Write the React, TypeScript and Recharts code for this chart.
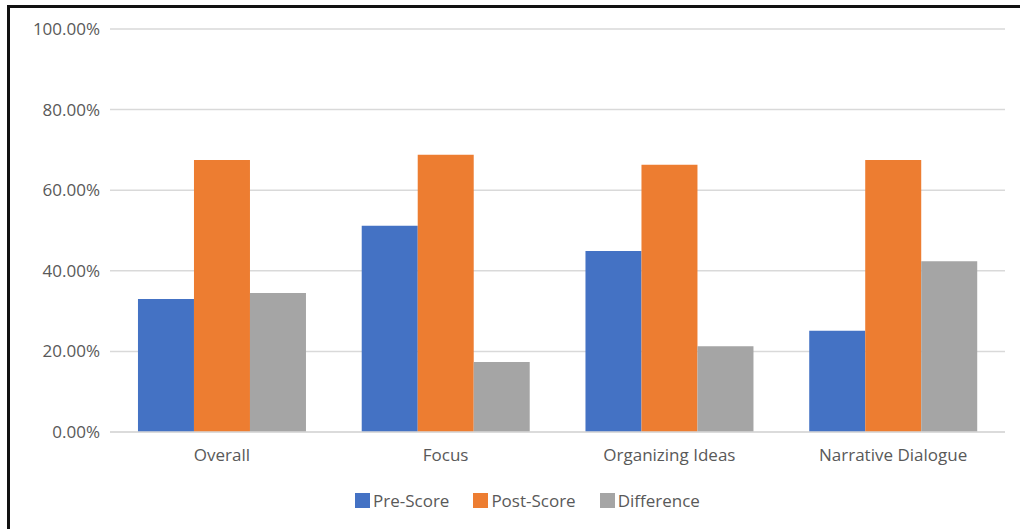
import { BarChart, Bar, XAxis, YAxis, CartesianGrid, Legend } from "recharts";

const categories = ["Overall", "Focus", "Organizing Ideas", "Narrative Dialogue"];
const seriesNames = ["Pre-Score", "Post-Score", "Difference"];
const preScore = [0.33, 0.512, 0.449, 0.251];
const postScore = [0.675, 0.688, 0.663, 0.675];
const difference = [0.345, 0.174, 0.213, 0.424];
const yTicks = [0, 0.2, 0.4, 0.6, 0.8, 1];

const data = categories.map((name, i) => ({
  name,
  pre: preScore[i],
  post: postScore[i],
  diff: difference[i],
}));

const textColor = "#595959";
const gridColor = "#d9d9d9";

function LegendContent({ payload }: any) {
  const items = [...(payload || [])].sort(
    (a: any, b: any) => seriesNames.indexOf(a.value) - seriesNames.indexOf(b.value)
  );
  return (
    <div style={{ display: "flex", alignItems: "center", fontSize: 17, color: textColor }}>
      {items.map((p: any) => (
        <div key={p.value} style={{ display: "flex", alignItems: "center", marginRight: 24 }}>
          <span style={{ width: 15, height: 15, background: p.color, display: "inline-block", marginRight: 3 }} />
          <span>{p.value}</span>
        </div>
      ))}
    </div>
  );
}

export default function App() {
  return (
    <div
      style={{
        position: "fixed",
        left: 0,
        top: 0,
        width: 1020,
        height: 529,
        overflow: "hidden",
        background: "#fff",
        fontFamily: "'Open Sans', sans-serif",
      }}
    >
      <div
        style={{
          position: "absolute",
          left: 7,
          top: 5,
          width: 1100,
          height: 600,
          border: "3px solid #111",
        }}
      />
      <div style={{ position: "absolute", left: 0, top: 0 }}>
        <BarChart
          width={1020}
          height={529}
          data={data}
          margin={{ top: 29, right: 15, left: 0, bottom: 67 }}
          barCategoryGap="12.5%"
          barGap={0}
        >
          <CartesianGrid vertical={false} stroke={gridColor} strokeWidth={1.5} />
          <XAxis
            dataKey="name"
            tickLine={false}
            axisLine={{ stroke: gridColor, strokeWidth: 1.5 }}
            tickMargin={11}
            tick={{ fontSize: 17, fill: textColor }}
          />
          <YAxis
            width={110}
            domain={[0, 1]}
            ticks={yTicks}
            tickLine={false}
            axisLine={false}
            tickMargin={4}
            tick={{ fontSize: 17, fill: textColor }}
            tickFormatter={(v: number) => (v * 100).toFixed(2) + "%"}
          />
          <Legend
            layout="horizontal"
            verticalAlign="middle"
            align="center"
            wrapperStyle={{ left: 355, top: 489, width: 420 }}
            content={<LegendContent />}
          />
          <Bar dataKey="pre" name="Pre-Score" fill="#4472C4" isAnimationActive={false} />
          <Bar dataKey="post" name="Post-Score" fill="#ED7D31" isAnimationActive={false} />
          <Bar dataKey="diff" name="Difference" fill="#A5A5A5" isAnimationActive={false} />
        </BarChart>
      </div>
    </div>
  );
}
